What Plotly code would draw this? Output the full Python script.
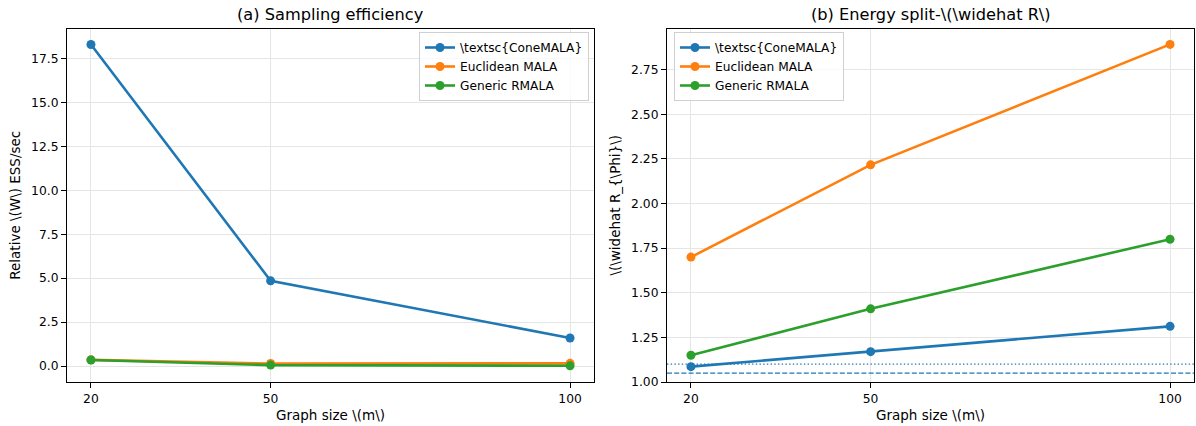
import plotly.graph_objects as go

graph_sizes = [20, 50, 100]
methods = ["\\textsc{ConeMALA}", "Euclidean MALA", "Generic RMALA"]
colors = ["#1f77b4", "#ff7f0e", "#2ca02c"]

ess_cone = [18.28, 4.85, 1.60]
ess_eucl = [0.36, 0.15, 0.16]
ess_rmala = [0.35, 0.06, 0.02]

r_cone = [1.086, 1.170, 1.312]
r_eucl = [1.700, 2.217, 2.892]
r_rmala = [1.150, 1.410, 1.800]

ref_dotted = 1.10
ref_dashed = 1.05

left_ticks = [0, 2.5, 5, 7.5, 10, 12.5, 15, 17.5]
right_ticks = [1.0, 1.25, 1.5, 1.75, 2.0, 2.25, 2.5, 2.75]

W, H = 1196, 426
FONT = "DejaVu Sans"

fig = go.Figure()

for name, ys, c in zip(methods, [ess_cone, ess_eucl, ess_rmala], colors):
    fig.add_trace(go.Scatter(x=graph_sizes, y=ys, name=name, mode="lines+markers",
                             line=dict(color=c, width=2.6), marker=dict(color=c, size=9),
                             xaxis="x", yaxis="y", legend="legend"))
for name, ys, c in zip(methods, [r_cone, r_eucl, r_rmala], colors):
    fig.add_trace(go.Scatter(x=graph_sizes, y=ys, name=name, mode="lines+markers",
                             line=dict(color=c, width=2.6), marker=dict(color=c, size=9),
                             xaxis="x2", yaxis="y2", legend="legend2"))

fig.add_shape(type="line", xref="x2 domain", yref="y2", x0=0, x1=1, y0=ref_dotted, y1=ref_dotted,
              line=dict(color="#1f77b4", width=1.3, dash="1.4px,2.3px"))
fig.add_shape(type="line", xref="x2 domain", yref="y2", x0=0, x1=1, y0=ref_dashed, y1=ref_dashed,
              line=dict(color="#1f77b4", width=1.3, dash="5px,2.2px"))

def px(x):
    return x / W

def py(y):
    return 1 - y / H

ydom = [py(382), py(28.5)]
common_x = dict(range=[16, 104], tickvals=graph_sizes, ticktext=[str(v) for v in graph_sizes],
                showline=True, linecolor="black", linewidth=1.1, mirror=True, automargin=False,
                ticks="outside", ticklen=5, tickcolor="black", tickwidth=1,
                showgrid=True, gridcolor="#e5e5e5", gridwidth=1, zeroline=False,
                tickfont=dict(family=FONT, size=12.3, color="black"),
                title=dict(text="Graph size \\(m\\)", font=dict(family=FONT, size=13.5, color="black"), standoff=5))
common_y = dict(showline=True, linecolor="black", linewidth=1.1, mirror=True, automargin=False,
                ticks="outside", ticklen=5, tickcolor="black", tickwidth=1,
                showgrid=True, gridcolor="#e5e5e5", gridwidth=1, zeroline=False,
                tickfont=dict(family=FONT, size=12.3, color="black"))

fig.update_layout(
    width=W, height=H,
    margin=dict(l=0, r=0, t=0, b=0, autoexpand=False),
    paper_bgcolor="white", plot_bgcolor="white",
    font=dict(family=FONT, color="black"),
    xaxis=dict(domain=[px(67), px(594)], anchor="y", **common_x),
    xaxis2=dict(domain=[px(667), px(1194)], anchor="y2", **common_x),
    yaxis=dict(domain=ydom, anchor="x", range=[-0.9, 19.19], tickvals=left_ticks, tickformat=".1f",
               title=dict(text="Relative \\(W\\) ESS/sec", font=dict(family=FONT, size=13.5, color="black"), standoff=7),
               **common_y),
    yaxis2=dict(domain=ydom, anchor="x2", range=[1.0, 2.981], tickvals=right_ticks, tickformat=".2f",
                title=dict(text="\\(\\widehat R_{\\Phi}\\)", font=dict(family=FONT, size=13.5, color="black"), standoff=7),
                **common_y),
    legend=dict(x=px(589), y=py(32), xanchor="right", yanchor="top",
                bgcolor="rgba(255,255,255,0.8)", bordercolor="#d0d0d0", borderwidth=1,
                font=dict(family=FONT, size=12.2, color="black"), tracegroupgap=0, itemwidth=30),
    legend2=dict(x=px(674), y=py(32), xanchor="left", yanchor="top",
                 bgcolor="rgba(255,255,255,0.8)", bordercolor="#d0d0d0", borderwidth=1,
                 font=dict(family=FONT, size=12.2, color="black"), tracegroupgap=0, itemwidth=30),
    annotations=[
        dict(text="(a) Sampling efficiency", x=(px(67) + px(594)) / 2, y=py(14), xref="paper", yref="paper",
             showarrow=False, xanchor="center", yanchor="middle", font=dict(family=FONT, size=16.2, color="black")),
        dict(text="(b) Energy split-\\(\\widehat R\\)", x=(px(667) + px(1194)) / 2, y=py(14), xref="paper", yref="paper",
             showarrow=False, xanchor="center", yanchor="middle", font=dict(family=FONT, size=16.2, color="black")),
    ],
)

fig.write_html("out.html", config={"displayModeBar": False},
               post_script="document.body.style.margin='0';document.body.style.padding='0';")
